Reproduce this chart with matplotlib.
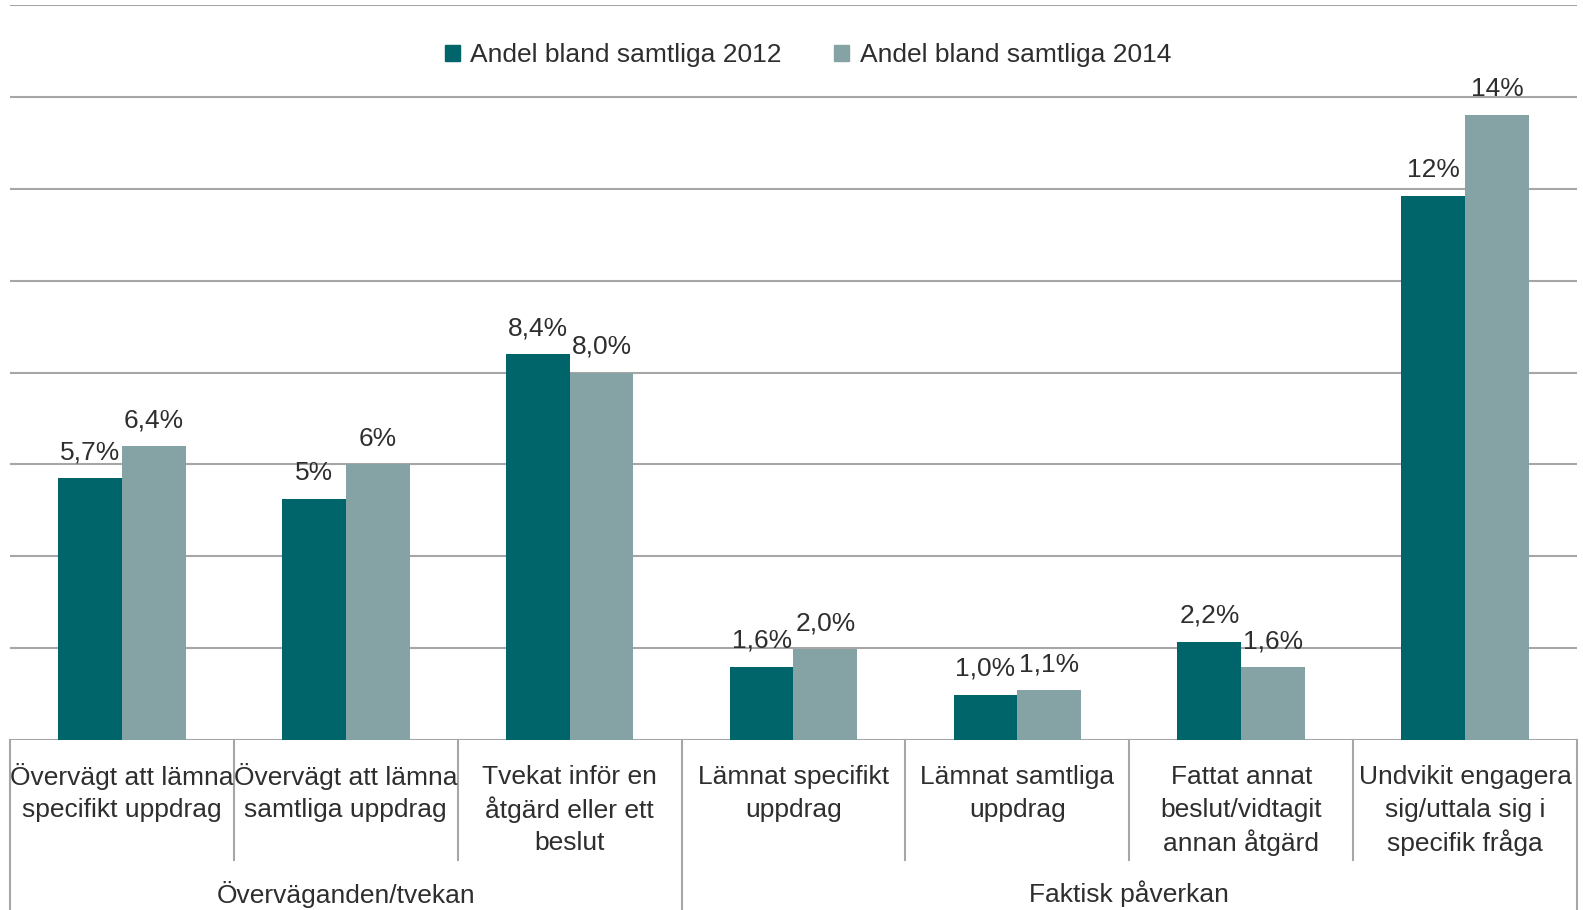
import numpy as np
import matplotlib
matplotlib.use("Agg")
import matplotlib.pyplot as plt
from matplotlib.patches import Patch
from matplotlib.transforms import blended_transform_factory

plt.rcParams['font.family'] = ['Liberation Sans', 'DejaVu Sans']

# data
categories = [
    "Övervägt att lämna\nspecifikt uppdrag",
    "Övervägt att lämna\nsamtliga uppdrag",
    "Tvekat inför en\nåtgärd eller ett\nbeslut",
    "Lämnat specifikt\nuppdrag",
    "Lämnat samtliga\nuppdrag",
    "Fattat annat\nbeslut/vidtagit\nannan åtgärd",
    "Undvikit engagera\nsig/uttala sig i\nspecifik fråga",
]
groups = ["Överväganden/tvekan", "Faktisk påverkan"]
group_sizes = [3, 4]
series_names = ["Andel bland samtliga 2012", "Andel bland samtliga 2014"]
vals_2012 = [5.7, 5.25, 8.4, 1.6, 0.99, 2.14, 11.84]
vals_2014 = [6.4, 6.0, 8.0, 1.98, 1.08, 1.58, 13.6]
labels_2012 = ["5,7%", "5%", "8,4%", "1,6%", "1,0%", "2,2%", "12%"]
labels_2014 = ["6,4%", "6%", "8,0%", "2,0%", "1,1%", "1,6%", "14%"]

c_dark = "#00656a"
c_light = "#85a2a5"
grid_c = "#a6a6a6"
txt_c = "#2e2e2e"
W, H = 1583, 910

fig = plt.figure(figsize=(W / 100, H / 100), dpi=100)
base_px, top_px, left_px, right_px = 740, 5, 10, 1577
ax = fig.add_axes([left_px / W, 1 - base_px / H,
                   (right_px - left_px) / W, (base_px - top_px) / H])
ax_h = base_px - top_px

x = np.arange(len(categories))
bw = 0.285
b1 = ax.bar(x - bw / 2, vals_2012, bw, color=c_dark, zorder=3)
b2 = ax.bar(x + bw / 2, vals_2014, bw, color=c_light, zorder=3)

for bars, labs in [(b1, labels_2012), (b2, labels_2014)]:
    for r, lab in zip(bars, labs):
        ax.annotate(lab, (r.get_x() + r.get_width() / 2, r.get_height()),
                    xytext=(0, 13.5), textcoords="offset points",
                    ha="center", va="baseline", fontsize=19, color=txt_c)

ax.set_xlim(-0.5, len(categories) - 0.5)
ax.set_ylim(0, 16)
ax.set_yticks(np.arange(0, 17, 2))
ax.yaxis.grid(True, color=grid_c, linewidth=1.5, zorder=0)
ax.tick_params(left=False, bottom=False, labelleft=False, labelbottom=False)
for s in ax.spines.values():
    s.set_visible(False)

# category axis below baseline
tr = blended_transform_factory(ax.transData, ax.transAxes)
def fy(px):
    return -(px - base_px) / ax_h

for i, cat in enumerate(categories):
    for j, line in enumerate(cat.split("\n")):
        ax.text(i, fy(777 + j * 33), line, transform=tr, ha="center",
                va="center", fontsize=19, color=txt_c)

# separators
bounds = np.cumsum([0] + group_sizes) - 0.5
for b in np.arange(-0.5, len(categories)):
    y_end = fy(910) if b in bounds else fy(860)
    ax.plot([b, b], [0, y_end], transform=tr, color=grid_c, lw=1.5,
            clip_on=False)

start = 0
for g, n in zip(groups, group_sizes):
    ax.text(start + (n - 1) / 2, fy(894), g, transform=tr, ha="center",
            va="center", fontsize=19, color=txt_c)
    start += n

handles = [Patch(color=c_dark), Patch(color=c_light)]
fig.legend(handles, series_names, loc="center", bbox_to_anchor=(808 / W, 1 - 55 / H),
           ncol=2, frameon=False, fontsize=19, handlelength=0.55, handleheight=0.55,
           handletextpad=0.4, columnspacing=2.0, labelcolor=txt_c)

fig.savefig("out.png", dpi=100)
